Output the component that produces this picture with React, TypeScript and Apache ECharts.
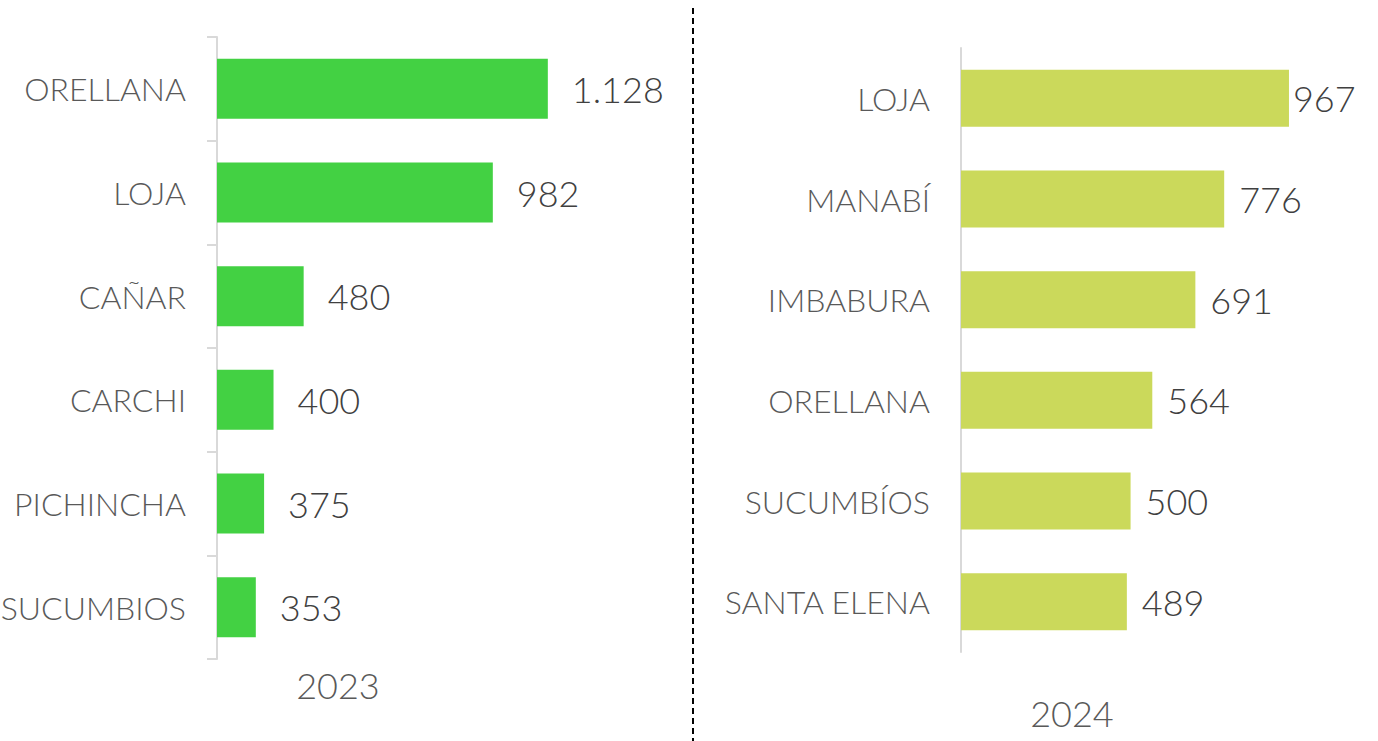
import React, { useEffect, useRef } from "react";
import * as echarts from "echarts";

const categories2023 = ["ORELLANA", "LOJA", "CAÑAR", "CARCHI", "PICHINCHA", "SUCUMBIOS"];
const values2023 = [1128, 982, 480, 400, 375, 353];
const categories2024 = ["LOJA", "MANABÍ", "IMBABURA", "ORELLANA", "SUCUMBÍOS", "SANTA ELENA"];
const values2024 = [967, 776, 691, 564, 500, 489];
const yearLabels = ["2023", "2024"];

const FONT = "Lato, 'DejaVu Sans', sans-serif";

function fmt(v: number): string {
  return String(v).replace(/\B(?=(\d{3})+(?!\d))/g, ".");
}

export default function App() {
  const ref = useRef<HTMLDivElement>(null);
  useEffect(() => {
    if (!ref.current) return;
    const chart = echarts.init(ref.current, undefined, { renderer: "svg" });
    const catLabel = {
      color: "#595959",
      fontSize: 32,
      fontWeight: 300,
      fontFamily: FONT,
      margin: 31,
    };
    const valLabel = {
      show: true,
      position: "right",
      color: "#404040",
      fontSize: 36,
      fontWeight: 300,
      fontFamily: FONT,
      formatter: (p: any) => fmt(p.value),
    };
    chart.setOption({
      animation: false,
      backgroundColor: "#ffffff",
      grid: [
        { left: 217, top: 37, width: 471, height: 622, containLabel: false, outerBoundsMode: "none" },
        { left: 961, top: 48, width: 407, height: 604, containLabel: false, outerBoundsMode: "none" },
      ],
      xAxis: [
        { type: "value", gridIndex: 0, min: 250, max: 1500, show: false },
        { type: "value", gridIndex: 1, min: 0, max: 1200, show: false },
      ],
      yAxis: [
        {
          type: "category",
          gridIndex: 0,
          data: categories2023,
          inverse: true,
          axisLine: { show: true, lineStyle: { color: "#d9d9d9", width: 2 } },
          axisTick: { show: true, length: 10, lineStyle: { color: "#d9d9d9", width: 2 } },
          axisLabel: catLabel,
        },
        {
          type: "category",
          gridIndex: 1,
          data: categories2024,
          inverse: true,
          axisLine: { show: true, lineStyle: { color: "#d9d9d9", width: 2 } },
          axisTick: { show: false },
          axisLabel: catLabel,
        },
      ],
      series: [
        {
          type: "bar",
          xAxisIndex: 0,
          yAxisIndex: 0,
          data: values2023,
          barWidth: 60,
          itemStyle: { color: "#43d143" },
          label: { ...valLabel, distance: 24 },
        },
        {
          type: "bar",
          xAxisIndex: 1,
          yAxisIndex: 1,
          data: values2024.map((v, i) =>
            i === 0 ? { value: v, label: { distance: 4 } } : v
          ),
          barWidth: 57,
          itemStyle: { color: "#cbd95b" },
          label: { ...valLabel, distance: 15 },
        },
      ],
      graphic: [
        {
          type: "line",
          shape: { x1: 693, y1: 8, x2: 693, y2: 741 },
          style: { stroke: "#000000", lineWidth: 2, lineDash: [6, 4] },
        },
        {
          type: "text",
          x: 338,
          y: 685,
          style: {
            text: yearLabels[0],
            fill: "#595959",
            fontSize: 36,
            fontWeight: 300,
            fontFamily: FONT,
            align: "center",
            verticalAlign: "middle",
          },
        },
        {
          type: "text",
          x: 1072,
          y: 713,
          style: {
            text: yearLabels[1],
            fill: "#595959",
            fontSize: 36,
            fontWeight: 300,
            fontFamily: FONT,
            align: "center",
            verticalAlign: "middle",
          },
        },
      ],
    });
    return () => chart.dispose();
  }, []);
  return (
    <div
      ref={ref}
      style={{ position: "fixed", left: 0, top: 0, width: 1378, height: 741 }}
    />
  );
}
